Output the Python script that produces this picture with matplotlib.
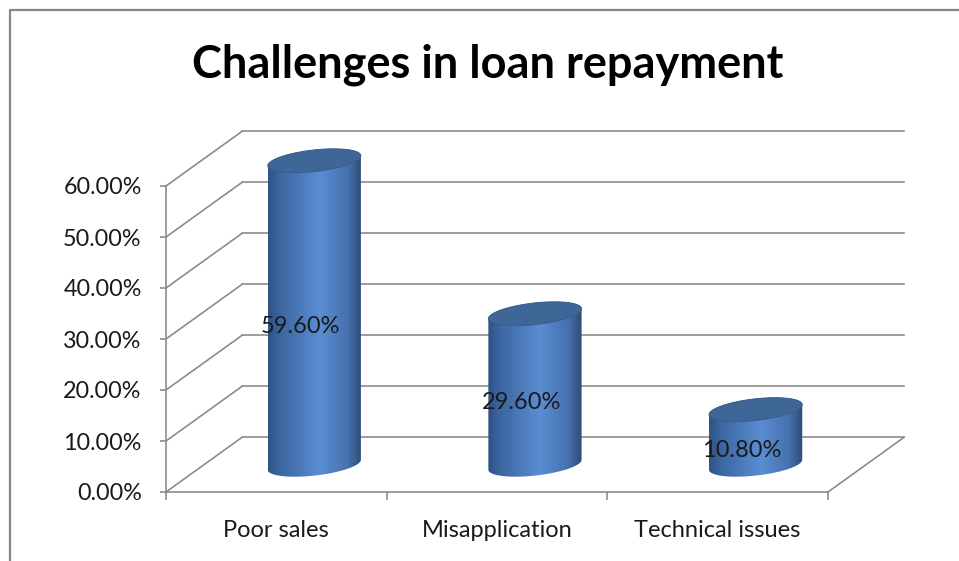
import numpy as np
import matplotlib.pyplot as plt
from matplotlib.colors import LinearSegmentedColormap
from matplotlib.lines import Line2D
from matplotlib.patches import Polygon

plt.rcParams['font.family'] = ['Lato', 'DejaVu Sans']

# data
categories = ['Poor sales', 'Misapplication', 'Technical issues']
values = [59.6, 29.6, 10.8]
y_ticks = [0, 10, 20, 30, 40, 50, 60]
title = 'Challenges in loan repayment'

# fake 3d: depth offset of the back wall (x in category units, y in %)
DX, DY = 0.344, 10.7
# cylinder ring: half width, depth shear, vertical half height
RA, RB, RC = 0.192, 0.088, 2.35
GRID = '#8c8c8c'
TXT = '#1a1a1a'

body_cmap = LinearSegmentedColormap.from_list(
    'cyl', [(0.0, '#2f5285'), (0.12, '#3b669f'), (0.55, '#5a8dd3'),
            (0.85, '#4672ae'), (1.0, '#2c4b77')])

W, H = 959, 561
fig = plt.figure(figsize=(W / 100, H / 100), dpi=100)
ax = fig.add_axes([166 / W, (H - 492) / H, (828 - 166) / W, (492 - 186) / H])
ax.patch.set_visible(False)

# outer chart border (only left and top are inside the picture)
fig.add_artist(Line2D([10 / W, 10 / W, 1], [0, 1 - 10 / H, 1 - 10 / H],
                      transform=fig.transFigure, color='#878787', lw=1.6))

# back wall gridlines + left wall diagonals
x0, x1 = -0.5, len(categories) - 0.5
for v in y_ticks:
    ax.plot([x0 + DX, x1 + DX], [v + DY, v + DY], color=GRID, lw=1.2, clip_on=False, zorder=1)
    ax.plot([x0, x0 + DX], [v, v + DY], color=GRID, lw=1.2, clip_on=False, zorder=1)
# right edge of the floor
ax.plot([x1, x1 + DX], [0, DY], color=GRID, lw=1.2, clip_on=False, zorder=1)


def ring(cx, cy, t):
    return cx + RA * np.cos(t) + RB * np.sin(t), cy + RC * np.sin(t)


t0 = np.arctan2(RB, RA)
for i, v in enumerate(values):
    cx = i + DX / 2
    yb = DY / 2
    yt = v + DY / 2
    bx, by = ring(cx, yb, np.linspace(t0 - np.pi, t0, 80))
    tx, ty = ring(cx, yt, np.linspace(t0, t0 + np.pi, 80))
    pts = np.column_stack([np.r_[bx, tx], np.r_[by, ty]])
    body = Polygon(pts, closed=True, facecolor='none', edgecolor='none', zorder=3)
    ax.add_patch(body)
    im = ax.imshow(np.linspace(0, 1, 256).reshape(1, -1), cmap=body_cmap,
                   extent=[pts[:, 0].min(), pts[:, 0].max(), pts[:, 1].min(), pts[:, 1].max()],
                   aspect='auto', interpolation='bilinear', zorder=3)
    im.set_clip_path(body)
    im.set_clip_box(fig.bbox)
    ex, ey = ring(cx, yt, np.linspace(0, 2 * np.pi, 120))
    ax.add_patch(Polygon(np.column_stack([ex, ey]), closed=True, facecolor='#3e6697',
                         edgecolor='#365c8a', lw=0.6, zorder=4, clip_on=False))
    ax.text(i + 0.11, v / 2 + 2.7, f'{v:.2f}%', ha='center', va='center',
            fontsize=17, color=TXT, zorder=5)

ax.set_xlim(x0, x1)
ax.set_ylim(0, 60)

for s in ['top', 'right']:
    ax.spines[s].set_visible(False)
for s in ['left', 'bottom']:
    ax.spines[s].set_color(GRID)
    ax.spines[s].set_linewidth(1.2)

ax.set_yticks(y_ticks)
ax.set_yticklabels([f'{v:.2f}%' for v in y_ticks])
ax.tick_params(axis='y', length=4.5, width=1.2, color=GRID, pad=13,
               labelsize=16.8, labelcolor=TXT)

ax.set_xticks(np.arange(len(categories) + 1) - 0.5)
ax.set_xticklabels([])
ax.set_xticks(np.arange(len(categories)), minor=True)
ax.set_xticklabels(categories, minor=True)
ax.tick_params(axis='x', which='major', length=6, width=1.2, color=GRID)
ax.tick_params(axis='x', which='minor', length=0, pad=20, labelsize=17, labelcolor=TXT)

fig.text(488 / W, (H - 78) / H, title, ha='center', va='baseline',
         fontsize=32.5, fontweight='bold', color='black')

fig.savefig('out.png', dpi=100)
